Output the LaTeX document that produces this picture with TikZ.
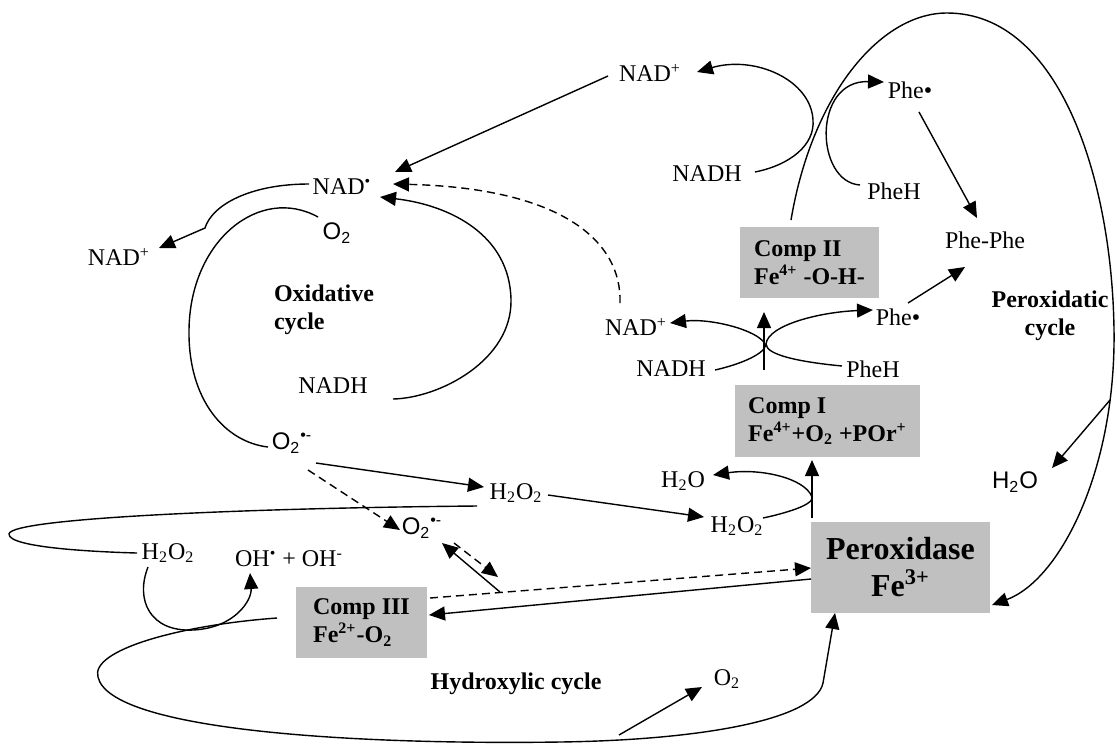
\documentclass[tikz,border=0pt]{standalone}
\usepackage{fontspec}
\setmainfont{Liberation Serif}
\setsansfont{Liberation Sans}
\usetikzlibrary{arrows.meta}
\definecolor{boxgray}{RGB}{192,192,192}

\begin{document}
\begin{tikzpicture}[x = 0.5pt, y = -0.5pt,
    lbl/.style = {font = \fontsize{12}{14}\selectfont, inner sep = 1pt},
    slbl/.style = {font = \sffamily\fontsize{12}{14}\selectfont, inner sep = 1pt},
    cyc/.style = {font = \bfseries\fontsize{12}{14}\selectfont, inner sep = 1pt},
    comp/.style = {fill = boxgray, font = \bfseries\fontsize{12}{14}\selectfont, align = left, inner xsep = 2pt, minimum height = 35.5pt},
    arr/.style = {-{Triangle[length = 8pt, width = 7pt]}, line width = 0.7pt},
    dsh/.style = {arr, dash pattern = on 4pt off 2.5pt},
    ln/.style = {line width = 0.7pt}]
    \useasboundingbox (0,0) rectangle (1117,745);

    \node[lbl] (nadtop) at (650,73) {NAD\textsuperscript{+}};
    \node[lbl] (nadrad) at (342,187) {NAD\textsuperscript{•}};
    \node[lbl] (nadleft) at (119,257) {NAD\textsuperscript{+}};
    \node[slbl] (otwo) at (337,233) {O\textsubscript{2}};
    \node[cyc, align = left] (oxlabel) at (324,310) {Oxidative\\cycle};
    \node[lbl] (nadhleft) at (333,386) {NADH};
    \node[slbl] (supleft) at (292,443) {O\textsubscript{2}\textsuperscript{•-}};
    \node[lbl] (htwoomid) at (516,493) {H\textsubscript{2}O\textsubscript{2}};
    \node[slbl] (supmid) at (422,528) {O\textsubscript{2}\textsuperscript{•-}};
    \node[lbl] (htwooleft) at (168,553) {H\textsubscript{2}O\textsubscript{2}};
    \node[lbl] (ohrad) at (289,559) {OH\textsuperscript{•} + OH\textsuperscript{-}};
    \node[comp, minimum width = 65.5pt] (compthree) at (361.5,622.5) {Comp III\\Fe\textsuperscript{2+}-O\textsubscript{2}};
    \node[cyc] (hydlabel) at (516,684) {Hydroxylic cycle};
    \node[lbl] (otwobot) at (727,679) {O\textsubscript{2}};
    \node[fill = boxgray, font = \bfseries\fontsize{16}{18.5}\selectfont, align = center, minimum width = 89.5pt, minimum height = 45.5pt] (perox) at (900.5,567.5) {Peroxidase\\Fe\textsuperscript{3+}};
    \node[lbl] (htwoonear) at (737,526) {H\textsubscript{2}O\textsubscript{2}};
    \node[lbl] (watermid) at (683,481) {H\textsubscript{2}O};
    \node[comp, minimum width = 92.5pt, minimum height = 36pt] (compone) at (827.5,421) {Comp I\\Fe\textsuperscript{4+}+O\textsubscript{2} +POr\textsuperscript{+}};
    \node[lbl] (nadhmid) at (671,369) {NADH};
    \node[lbl] (phehmid) at (873,369) {PheH};
    \node[lbl] (nadmid) at (636,327) {NAD\textsuperscript{+}};
    \node[lbl] (phemid) at (898,317) {Phe•};
    \node[comp, minimum width = 69.5pt] (comptwo) at (809.5,262.5) {Comp II\\Fe\textsuperscript{4+} -O-H-};
    \node[cyc, align = center] (perlabel) at (1050,316) {Peroxidatic\\cycle};
    \node[slbl] (waterright) at (1015,482) {H\textsubscript{2}O};
    \node[lbl] (phephe) at (985,240) {Phe-Phe};
    \node[lbl] (phehtop) at (894,191) {PheH};
    \node[lbl] (nadhtop) at (707,174) {NADH};
    \node[lbl] (phetop) at (910,90) {Phe•};

    \coordinate (rbranch) at (1110,400);
    \coordinate (obranch) at (619,735);
    \coordinate (dashpt) at (500,592);

    \draw[arr] ([shift = {(-42,3)}]nadtop.center) -- ([shift = {(53,-15)}]nadrad.center);
    \draw[arr] ([shift = {(48,-2)}]nadhtop.center) .. controls (790,165) and (815,145) .. (813,120) .. controls (811,80) and (755,55) .. ([shift = {(47,-1)}]nadtop.center);
    \draw[arr] ([shift = {(-18.5,-42.5)}]comptwo.center) .. controls (812,95) and (880,13) .. (947,13) .. controls (1060,13) and (1112,180) .. (1114,330) .. controls (1116,470) and (1060,580) .. ([shift = {(91.5,37.5)}]perox.center);
    \draw[arr] (rbranch) -- ([shift = {(37,-14)}]waterright.center);
    \draw[arr] ([shift = {(-34,-6)}]phehtop.center) .. controls (815,182) and (812,80) .. ([shift = {(-26,-8)}]phetop.center);
    \draw[arr] ([shift = {(9,22)}]phetop.center) -- ([shift = {(-8,-22)}]phephe.center);
    \draw[arr] ([shift = {(10,-14)}]phemid.center) -- ([shift = {(-20,27)}]phephe.center);
    \draw[arr] ([shift = {(-63.5,-51)}]compone.center) -- ([shift = {(-45.5,49.5)}]comptwo.center);
    \draw[arr] ([shift = {(44,1)}]nadhmid.center) .. controls (750,362) and (768,350) .. (765,344) .. controls (758,330) and (710,318) .. ([shift = {(34,-4)}]nadmid.center);
    \draw[arr] ([shift = {(-31,-3)}]phehmid.center) .. controls (800,362) and (766,355) .. (766,344) .. controls (768,325) and (820,312) .. ([shift = {(-25,-7)}]phemid.center);
    \draw[dsh] ([shift = {(-16,-24)}]nadmid.center) .. controls (622,240) and (560,188) .. ([shift = {(51,-3)}]nadrad.center);
    \draw[arr] ([shift = {(60,13)}]nadhleft.center) .. controls (440,398) and (512,360) .. (511,300) .. controls (510,235) and (450,205) .. ([shift = {(38,10)}]nadrad.center);
    \draw[arr] ([shift = {(-33,-3)}]nadrad.center) .. controls (250,184) and (212,205) .. (205,228) -- ([shift = {(40,-9)}]nadleft.center);
    \draw[ln] ([shift = {(-19,-16)}]otwo.center) .. controls (260,185) and (190,240) .. (189,330) .. controls (188,400) and (225,442) .. ([shift = {(-24,4)}]supleft.center);
    \draw[arr] ([shift = {(24,20)}]supleft.center) -- ([shift = {(-32,-6)}]htwoomid.center);
    \draw[dsh] ([shift = {(16,27)}]supleft.center) -- ([shift = {(-22,2)}]supmid.center);
    \draw[arr] ([shift = {(32,2)}]htwoomid.center) -- ([shift = {(-33,-9)}]htwoonear.center);
    \draw[ln] ([shift = {(-39,13)}]htwoomid.center) .. controls (250,508) and (10,518) .. (9,534) .. controls (8,548) and (100,552) .. ([shift = {(-31,0)}]htwooleft.center);
    \draw[arr] ([shift = {(-20,14)}]htwooleft.center) .. controls (135,600) and (150,632) .. (193,630) .. controls (235,628) and (252,600) .. ([shift = {(-39,14)}]ohrad.center);
    \draw[arr] ([shift = {(-84.5,-4.5)}]compthree.center) .. controls (180,625) and (90,650) .. (98,677) .. controls (110,730) and (350,745) .. (560,742) .. controls (700,740) and (815,720) .. (823,683) -- ([shift = {(-65.5,45.5)}]perox.center);
    \draw[arr] (obranch) -- ([shift = {(-25,8)}]otwobot.center);
    \draw[arr] ([shift = {(-89.5,11.5)}]perox.center) -- ([shift = {(67.5,-7.5)}]compthree.center);
    \draw[dsh] ([shift = {(68.5,-24.5)}]compthree.center) -- ([shift = {(-89.5,0.5)}]perox.center);
    \draw[arr] (dashpt) -- ([shift = {(20,15)}]supmid.center);
    \draw[dsh] ([shift = {(32,15)}]supmid.center) -- ([shift = {(76,49)}]supmid.center);
    \draw[arr] ([shift = {(26,-8)}]htwoonear.center) .. controls (800,510) and (814,502) .. (812,497) .. controls (805,478) and (760,468) .. ([shift = {(30,-6)}]watermid.center);
    \draw[arr] ([shift = {(-88.5,-49.5)}]perox.center) -- ([shift = {(-15.5,39)}]compone.center);
\end{tikzpicture}
\end{document}
